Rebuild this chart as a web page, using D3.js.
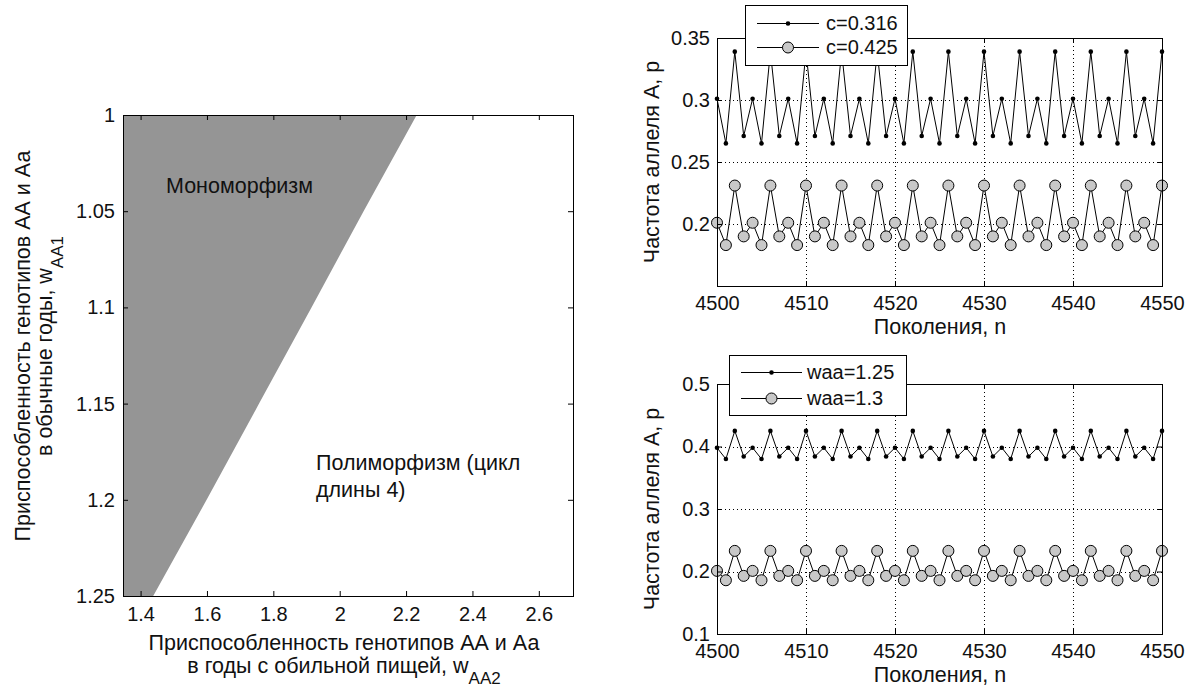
<!DOCTYPE html>
<html lang="ru">
<head>
<meta charset="utf-8">
<title>Мономорфизм и полиморфизм</title>
<script src="https://cdn.jsdelivr.net/npm/d3@7"></script>
<style>
  body { margin: 0; background: #fff; }
  svg text { font-family: "Liberation Sans", Arial, sans-serif; font-size: 20px; fill: #111; }
  svg text.lab { font-size: 21.5px; }
</style>
</head>
<body>
<script>
// ---- data ----
var gens = [4500, 4501, 4502, 4503, 4504, 4505, 4506, 4507, 4508, 4509,
            4510, 4511, 4512, 4513, 4514, 4515, 4516, 4517, 4518, 4519,
            4520, 4521, 4522, 4523, 4524, 4525, 4526, 4527, 4528, 4529,
            4530, 4531, 4532, 4533, 4534, 4535, 4536, 4537, 4538, 4539,
            4540, 4541, 4542, 4543, 4544, 4545, 4546, 4547, 4548, 4549, 4550];

var c316 = [0.301, 0.265, 0.339, 0.271, 0.301, 0.265, 0.339, 0.271, 0.301, 0.265,
            0.339, 0.271, 0.301, 0.265, 0.339, 0.271, 0.301, 0.265, 0.339, 0.271,
            0.301, 0.265, 0.339, 0.271, 0.301, 0.265, 0.339, 0.271, 0.301, 0.265,
            0.339, 0.271, 0.301, 0.265, 0.339, 0.271, 0.301, 0.265, 0.339, 0.271,
            0.301, 0.265, 0.339, 0.271, 0.301, 0.265, 0.339, 0.271, 0.301, 0.265, 0.339];

var c425 = [0.201, 0.183, 0.231, 0.190, 0.201, 0.183, 0.231, 0.190, 0.201, 0.183,
            0.231, 0.190, 0.201, 0.183, 0.231, 0.190, 0.201, 0.183, 0.231, 0.190,
            0.201, 0.183, 0.231, 0.190, 0.201, 0.183, 0.231, 0.190, 0.201, 0.183,
            0.231, 0.190, 0.201, 0.183, 0.231, 0.190, 0.201, 0.183, 0.231, 0.190,
            0.201, 0.183, 0.231, 0.190, 0.201, 0.183, 0.231, 0.190, 0.201, 0.183, 0.231];

var waa125 = [0.398, 0.380, 0.425, 0.384, 0.398, 0.380, 0.425, 0.384, 0.398, 0.380,
              0.425, 0.384, 0.398, 0.380, 0.425, 0.384, 0.398, 0.380, 0.425, 0.384,
              0.398, 0.380, 0.425, 0.384, 0.398, 0.380, 0.425, 0.384, 0.398, 0.380,
              0.425, 0.384, 0.398, 0.380, 0.425, 0.384, 0.398, 0.380, 0.425, 0.384,
              0.398, 0.380, 0.425, 0.384, 0.398, 0.380, 0.425, 0.384, 0.398, 0.380, 0.425];

var waa13 = [0.201, 0.186, 0.233, 0.193, 0.201, 0.186, 0.233, 0.193, 0.201, 0.186,
             0.233, 0.193, 0.201, 0.186, 0.233, 0.193, 0.201, 0.186, 0.233, 0.193,
             0.201, 0.186, 0.233, 0.193, 0.201, 0.186, 0.233, 0.193, 0.201, 0.186,
             0.233, 0.193, 0.201, 0.186, 0.233, 0.193, 0.201, 0.186, 0.233, 0.193,
             0.201, 0.186, 0.233, 0.193, 0.201, 0.186, 0.233, 0.193, 0.201, 0.186, 0.233];

// boundary of the monomorphism region (w_AA1 -> w_AA2)
var boundW1 = [1, 1.05, 1.1, 1.15, 1.2, 1.25];
var boundW2 = [2.232, 2.072, 1.915, 1.757, 1.599, 1.438];

var leftXTicks = [1.4, 1.6, 1.8, 2, 2.2, 2.4, 2.6];
var leftYTicks = [1, 1.05, 1.1, 1.15, 1.2, 1.25];
var genTicks = [4500, 4510, 4520, 4530, 4540, 4550];
var topYTicks = [0.2, 0.25, 0.3, 0.35];
var botYTicks = [0.1, 0.2, 0.3, 0.4, 0.5];

var w = 1192, h = 688;
var svg = d3.select("body").append("svg")
    .attr("width", w)
    .attr("height", h)
    .style("background", "#fff");

// inward ticks on all 4 sides + box, labels on bottom/left
function frame(x, y, xt, yt, xpad, ypad) {
  var x0 = x.range()[0], x1 = x.range()[1];
  var y0 = y.range()[0], y1 = y.range()[1];   // y0 bottom, y1 top
  var g = svg.append("g");
  g.append("g").attr("transform", "translate(0," + y0 + ")")
    .call(d3.axisBottom(x).tickValues(xt).tickSize(-5).tickPadding(xpad).tickFormat(String));
  g.append("g").attr("transform", "translate(0," + y1 + ")")
    .call(d3.axisTop(x).tickValues(xt).tickSize(-5).tickFormat(""));
  g.append("g").attr("transform", "translate(" + x0 + ",0)")
    .call(d3.axisLeft(y).tickValues(yt).tickSize(-5).tickPadding(ypad).tickFormat(String));
  g.append("g").attr("transform", "translate(" + x1 + ",0)")
    .call(d3.axisRight(y).tickValues(yt).tickSize(-5).tickFormat(""));
  g.selectAll(".domain").remove();
  g.append("rect")
    .attr("x", x0 + 0.5).attr("y", y1 + 0.5)
    .attr("width", x1 - x0).attr("height", y0 - y1)
    .attr("fill", "none").attr("stroke", "#000");
  return g;
}

// ================= left: parameter plane =================
var xL = d3.scaleLinear().domain([1.347, 2.703]).range([123, 573]);
var yL = d3.scaleLinear().domain([1.25, 1]).range([596, 115]);

var region = boundW1.map(function(d, i) { return {w1: d, w2: boundW2[i]}; });
svg.append("path")
  .datum(region)
  .attr("fill", "#959595")
  .attr("d", d3.area()
    .y(function(d) { return yL(d.w1); })
    .x0(xL(xL.domain()[0]))
    .x1(function(d) { return xL(d.w2); }));

frame(xL, yL, leftXTicks, leftYTicks, 11, 8);

svg.append("text").attr("class", "lab").attr("x", 166).attr("y", 193).text("Мономорфизм");
svg.append("text").attr("class", "lab").attr("x", 316).attr("y", 470).text("Полиморфизм (цикл");
svg.append("text").attr("class", "lab").attr("x", 316).attr("y", 497).text("длины 4)");

// x label
svg.append("text").attr("class", "lab").attr("x", 344).attr("y", 650).attr("text-anchor", "middle")
  .text("Приспособленность генотипов АА и Аа");
var xl2 = svg.append("text").attr("class", "lab").attr("x", 344).attr("y", 673).attr("text-anchor", "middle");
xl2.append("tspan").text("в годы с обильной пищей, w");
xl2.append("tspan").attr("dy", 11).style("font-size", "17px").text("AA2");

// y label (rotated)
var yl = svg.append("g").attr("transform", "translate(30,346) rotate(-90)");
yl.append("text").attr("class", "lab").attr("text-anchor", "middle").text("Приспособленность генотипов АА и Аа");
var yl2 = yl.append("text").attr("class", "lab").attr("y", 22).attr("text-anchor", "middle");
yl2.append("tspan").text("в обычные годы, w");
yl2.append("tspan").attr("dy", 11).style("font-size", "17px").text("AA1");

// ================= right: time series =================
function series(vals) {
  return gens.map(function(g, i) { return {n: g, v: vals[i]}; });
}

function tsPlot(yDomain, yRange, yt, s1, s2, legend) {
  var x = d3.scaleLinear().domain([4500, 4550]).range([717, 1162]);
  var y = d3.scaleLinear().domain(yDomain).range(yRange);
  var grid = svg.append("g").attr("stroke", "#000").attr("stroke-dasharray", "1,3");
  genTicks.slice(1, -1).forEach(function(t) {
    grid.append("line").attr("x1", Math.round(x(t)) + 0.5).attr("x2", Math.round(x(t)) + 0.5)
      .attr("y1", yRange[1]).attr("y2", yRange[0]);
  });
  yt.forEach(function(t) {
    if (t === yDomain[0] || t === yDomain[1]) return;
    grid.append("line").attr("y1", Math.round(y(t)) + 0.5).attr("y2", Math.round(y(t)) + 0.5)
      .attr("x1", 717).attr("x2", 1162);
  });

  var line = d3.line().x(function(d) { return x(d.n); }).y(function(d) { return y(d.v); });
  var p1 = series(s1), p2 = series(s2);

  svg.append("path").datum(p1).attr("fill", "none").attr("stroke", "#000").attr("d", line);
  svg.selectAll(null).data(p1).enter().append("circle")
    .attr("cx", function(d) { return x(d.n); }).attr("cy", function(d) { return y(d.v); })
    .attr("r", 2.3).attr("fill", "#000");

  svg.append("path").datum(p2).attr("fill", "none").attr("stroke", "#000").attr("d", line);
  svg.selectAll(null).data(p2).enter().append("circle")
    .attr("cx", function(d) { return x(d.n); }).attr("cy", function(d) { return y(d.v); })
    .attr("r", 5.5).attr("fill", "#c8c8c8").attr("stroke", "#000");

  frame(x, y, genTicks, yt, 10, 7);

  svg.append("text").attr("class", "lab").attr("x", 940).attr("y", yRange[0] + 48)
    .attr("text-anchor", "middle").text("Поколения, n");
  svg.append("text").attr("class", "lab")
    .attr("transform", "translate(659," + (yRange[0] + yRange[1]) / 2 + ") rotate(-90)")
    .attr("text-anchor", "middle").text("Частота аллеля А, р");

  // legend
  var lg = svg.append("g");
  lg.append("rect").attr("x", legend.x + 0.5).attr("y", legend.y + 0.5)
    .attr("width", legend.w).attr("height", legend.h)
    .attr("fill", "#fff").attr("stroke", "#000");
  legend.labels.forEach(function(lab, i) {
    var ly = legend.rows[i];
    lg.append("line").attr("x1", legend.lx0).attr("x2", legend.lx1)
      .attr("y1", ly + 0.5).attr("y2", ly + 0.5).attr("stroke", "#000");
    var mx = (legend.lx0 + legend.lx1) / 2;
    if (i === 0) lg.append("circle").attr("cx", mx).attr("cy", ly + 0.5).attr("r", 2.3).attr("fill", "#000");
    else lg.append("circle").attr("cx", mx).attr("cy", ly + 0.5).attr("r", 5.5)
      .attr("fill", "#c8c8c8").attr("stroke", "#000");
    lg.append("text").attr("x", legend.tx).attr("y", ly).attr("dy", "0.35em").text(lab);
  });
}

tsPlot([0.15, 0.35], [286, 38], topYTicks, c316, c425,
  {x: 745, y: 5, w: 162, h: 60, lx0: 757, lx1: 819, tx: 826, rows: [23, 47],
   labels: ["c=0.316", "c=0.425"]});

tsPlot([0.1, 0.5], [634, 384], botYTicks, waa125, waa13,
  {x: 729, y: 355, w: 177, h: 60, lx0: 741, lx1: 802, tx: 807, rows: [372, 398],
   labels: ["waa=1.25", "waa=1.3"]});
</script>
</body>
</html>
